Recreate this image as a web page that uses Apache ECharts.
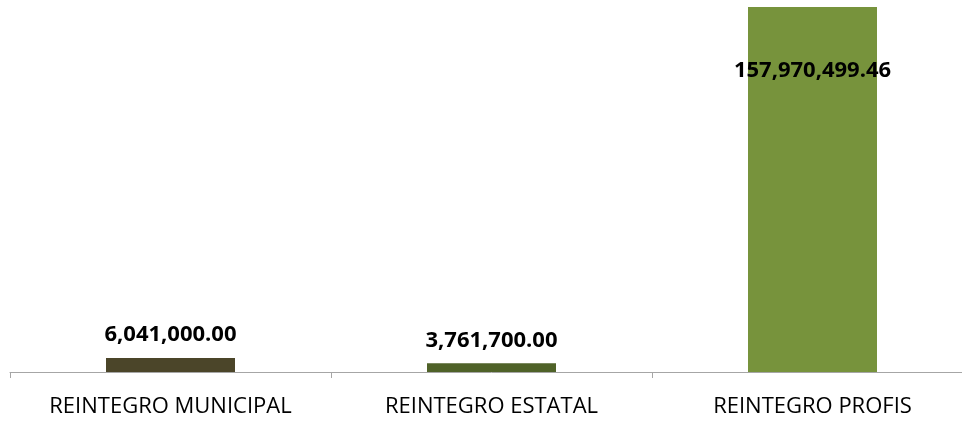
<!DOCTYPE html>
<html>
<head>
	<meta charset="utf-8">
	<title>Reintegros</title>
	<script src="https://cdn.jsdelivr.net/npm/echarts@6/dist/echarts.min.js"></script>
	<style>body{margin:0;background:#fff;overflow:hidden;}</style>
</head>
<body>
	<!-- el eje sigue más allá del borde derecho, por eso el div es más ancho -->
	<div id="main" style="width: 973px;height: 422px"></div>
	<script type="text/javascript">
		var categories = ['REINTEGRO MUNICIPAL', 'REINTEGRO ESTATAL', 'REINTEGRO PROFIS'];
		var values = [6041000.00, 3761700.00, 157970499.46];
		var colors = ['#4B4529', '#4F6228', '#77933C'];

		var myChart = echarts.init(document.getElementById('main'));

		function fmt(v) {
			return v.toLocaleString('en-US', {minimumFractionDigits: 2, maximumFractionDigits: 2});
		}

		var data = values.map(function (v, i) {
			var item = {value: v, itemStyle: {color: colors[i]}};
			if (i == 2) {
				// la barra grande lleva la etiqueta por dentro
				item.label = {position: 'insideTop', distance: 53};
			}
			return item;
		});

		var option = {
			backgroundColor: '#ffffff',
			animation: false,
			grid: {left: 10, right: 0, top: 7, bottom: 50},
			xAxis: {
				type: 'category',
				data: categories,
				axisLine: {lineStyle: {color: '#a6a6a6', width: 1}},
				axisTick: {show: true, length: 6, lineStyle: {color: '#a6a6a6'}},
				axisLabel: {
					color: '#000',
					fontSize: 22,
					fontFamily: 'Open Sans',
					margin: 24
				}
			},
			yAxis: {
				type: 'value',
				min: 0,
				max: 'dataMax',
				show: false,
				splitLine: {show: false}
			},
			series: [
				{
					type: 'bar',
					data: data,
					barWidth: 129,
					label: {
						show: true,
						position: 'top',
						distance: 12,
						color: '#000',
						fontSize: 22,
						fontWeight: 'bold',
						fontFamily: 'Open Sans',
						formatter: function (p) { return fmt(p.value); }
					}
				}
			]
		};
		myChart.setOption(option);
	</script>
</body>
</html>
